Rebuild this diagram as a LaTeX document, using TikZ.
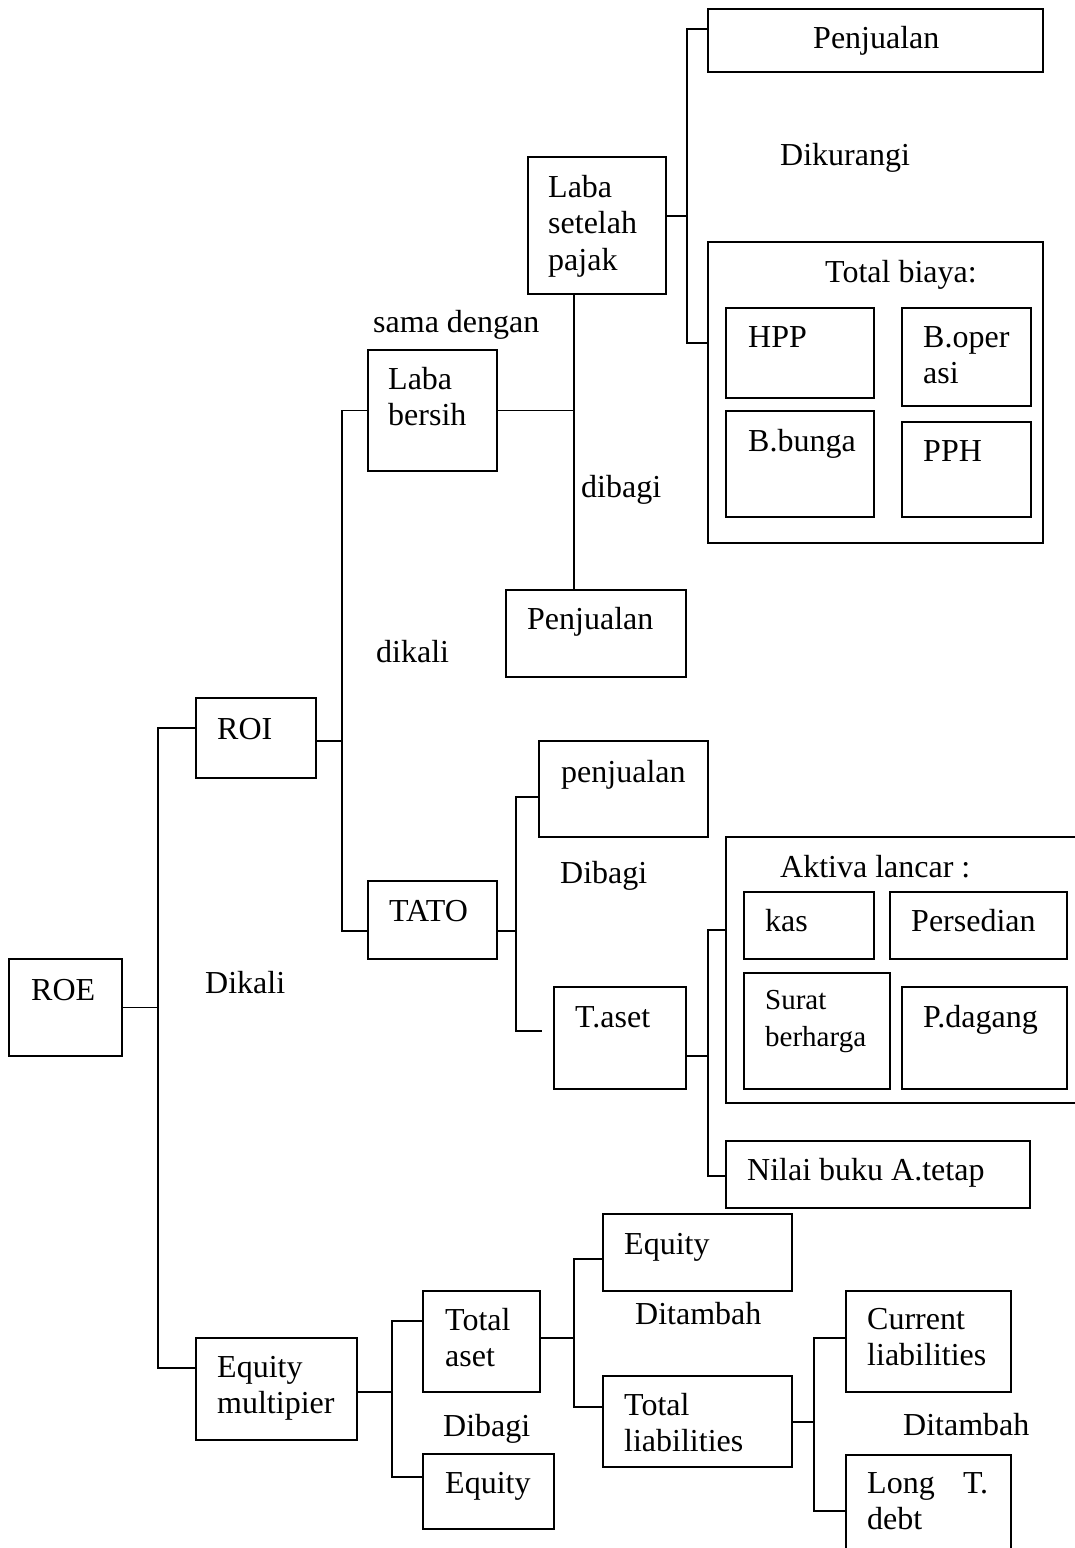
\documentclass[tikz,border=0pt]{standalone}
\usepackage{fontspec}
\setmainfont{Liberation Serif}
\usetikzlibrary{fit}
\newcommand{\twol}[2]{\begin{tabular}[t]{@{}l@{}}#1\\#2\end{tabular}}
\begin{document}
\begin{tikzpicture}[x=1pt,y=-1pt,
  box/.style={draw,line width=1.5pt,inner sep=0pt},
  lbl/.style={anchor=base west,inner sep=0pt,font=\fontsize{32}{36.8}\selectfont},
  sml/.style={anchor=base west,inner sep=0pt,font=\fontsize{29}{37}\selectfont},
  conn/.style={line width=1.5pt}]
\useasboundingbox (0,0) rectangle (1075,1548);
\clip (0,0) rectangle (1075,1548);
% boxes
\node[box,fit={(9,959) (122,1056)}] (roe) {};
\node[box,fit={(196,698) (316,778)}] (roi) {};
\node[box,fit={(368,350) (497,471)}] (lb) {};
\node[box,fit={(368,881) (497,959)}] (tato) {};
\node[box,fit={(528,157) (666,294)}] (lsp) {};
\node[box,fit={(506,590) (686,677)}] (pm) {};
\node[box,fit={(708,9) (1043,72)}] (pt) {};
\node[box,fit={(708,242) (1043,543)}] (tb) {};
\node[box,fit={(726,308) (874,398)}] (hpp) {};
\node[box,fit={(902,308) (1031,406)}] (bop) {};
\node[box,fit={(726,411) (874,517)}] (bbu) {};
\node[box,fit={(902,422) (1031,517)}] (pph) {};
\node[box,fit={(539,741) (708,837)}] (pk) {};
\node[box,fit={(554,987) (686,1089)}] (ta) {};
\node[box,fit={(726,837) (1090,1103)}] (al) {};
\node[box,fit={(744,892) (874,959)}] (kas) {};
\node[box,fit={(890,892) (1067,959)}] (per) {};
\node[box,fit={(744,973) (890,1089)}] (sb) {};
\node[box,fit={(902,987) (1067,1089)}] (pd) {};
\node[box,fit={(726,1141) (1030,1208)}] (nb) {};
\node[box,fit={(196,1338) (357,1440)}] (eqm) {};
\node[box,fit={(423,1291) (540,1392)}] (tas) {};
\node[box,fit={(423,1454) (554,1529)}] (eqs) {};
\node[box,fit={(603,1214) (792,1291)}] (eqb) {};
\node[box,fit={(603,1376) (792,1467)}] (tl) {};
\node[box,fit={(846,1291) (1011,1392)}] (cl) {};
\node[box,fit={(846,1455) (1011,1570)}] (lt) {};
% bus coordinates
\coordinate (b1) at (158,0);
\coordinate (b2) at (342,0);
\coordinate (b3) at (574,0);
\coordinate (b4) at (687,0);
\coordinate (b5) at (516,0);
\coordinate (b6) at (708,0);
\coordinate (b7) at (392,0);
\coordinate (b8) at (574,0);
\coordinate (b9) at (814,0);
\coordinate (taend) at (542,1031);
% connectors
\draw[conn] (roe.east) -- (roe.east -| b1);
\draw[conn] (roi.west |- 0,728) -| (b1 |- 0,1368) -- (eqm.west |- 0,1368);
\draw[conn] (roi.east |- 0,741) -- (b2 |- 0,741);
\draw[conn] (lb.west) -| (b2 |- 0,931) -- (tato.west |- 0,931);
\draw[conn] (lb.east) -- (lb.east -| b3);
\draw[conn] (lsp.south -| b3) -- (pm.north -| b3);
\draw[conn] (lsp.east |- 0,216) -- (b4 |- 0,216);
\draw[conn] (pt.west |- 0,29) -| (b4 |- 0,343) -- (tb.west |- 0,343);
\draw[conn] (tato.east |- 0,931) -- (b5 |- 0,931);
\draw[conn] (pk.west |- 0,797) -| (b5 |- 0,1031) -- (taend);
\draw[conn] (ta.east |- 0,1056) -- (b6 |- 0,1056);
\draw[conn] (al.west |- 0,930) -| (b6 |- 0,1176) -- (nb.west |- 0,1176);
\draw[conn] (eqm.east |- 0,1392) -- (b7 |- 0,1392);
\draw[conn] (tas.west |- 0,1321) -| (b7 |- 0,1477) -- (eqs.west |- 0,1477);
\draw[conn] (tas.east |- 0,1338) -- (b8 |- 0,1338);
\draw[conn] (eqb.west |- 0,1259) -| (b8 |- 0,1407) -- (tl.west |- 0,1407);
\draw[conn] (tl.east |- 0,1422) -- (b9 |- 0,1422);
\draw[conn] (cl.west |- 0,1338) -| (b9 |- 0,1511) -- (lt.west |- 0,1511);
% texts
\node[lbl] (t-roe) at (31,1000) {ROE};
\node[lbl] (t-roi) at (217,739) {ROI};
\node[lbl] (t-dikali1) at (205,993) {Dikali};
\node[lbl] (t-lb) at (388,389) {\twol{Laba}{bersih}};
\node[lbl] (t-sama) at (373,332) {sama dengan};
\node[lbl] (t-dikali2) at (376,662) {dikali};
\node[lbl] (t-dibagi1) at (581,497) {dibagi};
\node[lbl] (t-lsp) at (548,197) {\begin{tabular}[t]{@{}l@{}}Laba\\setelah\\pajak\end{tabular}};
\node[lbl] (t-pm) at (527,629) {Penjualan};
\node[lbl] (t-pt) at (813,48) {Penjualan};
\node[lbl] (t-dikurangi) at (780,165) {Dikurangi};
\node[lbl] (t-tb) at (825,282) {Total biaya:};
\node[lbl] (t-hpp) at (748,347) {HPP};
\node[lbl] (t-bop) at (923,347) {\twol{B.oper}{asi}};
\node[lbl] (t-bbu) at (748,451) {B.bunga};
\node[lbl] (t-pph) at (923,461) {PPH};
\node[lbl] (t-tato) at (389,921) {TATO};
\node[lbl] (t-pk) at (561,782) {penjualan};
\node[lbl] (t-dibagi2) at (560,883) {Dibagi};
\node[lbl] (t-ta) at (575,1027) {T.aset};
\node[lbl] (t-al) at (780,877) {Aktiva lancar :};
\node[lbl] (t-kas) at (765,931) {kas};
\node[lbl] (t-per) at (911,931) {Persedian};
\node[sml] (t-sb) at (765,1009) {\twol{Surat}{berharga}};
\node[lbl] (t-pd) at (923,1027) {P.dagang};
\node[lbl] (t-nb) at (747,1180) {Nilai buku A.tetap};
\node[lbl] (t-eqm) at (217,1377) {\twol{Equity}{multipier}};
\node[lbl] (t-tas) at (445,1330) {\twol{Total}{aset}};
\node[lbl] (t-dibagi3) at (443,1436) {Dibagi};
\node[lbl] (t-eqs) at (445,1493) {Equity};
\node[lbl] (t-eqb) at (624,1254) {Equity};
\node[lbl] (t-dit1) at (635,1324) {Ditambah};
\node[lbl] (t-tl) at (624,1415) {\twol{Total}{liabilities}};
\node[lbl] (t-cl) at (867,1329) {\twol{Current}{liabilities}};
\node[lbl] (t-dit2) at (903,1435) {Ditambah};
\node[lbl] (t-lt) at (867,1493) {\twol{\makebox[121pt][s]{Long\hfill T.}}{debt}};
\end{tikzpicture}
\end{document}
